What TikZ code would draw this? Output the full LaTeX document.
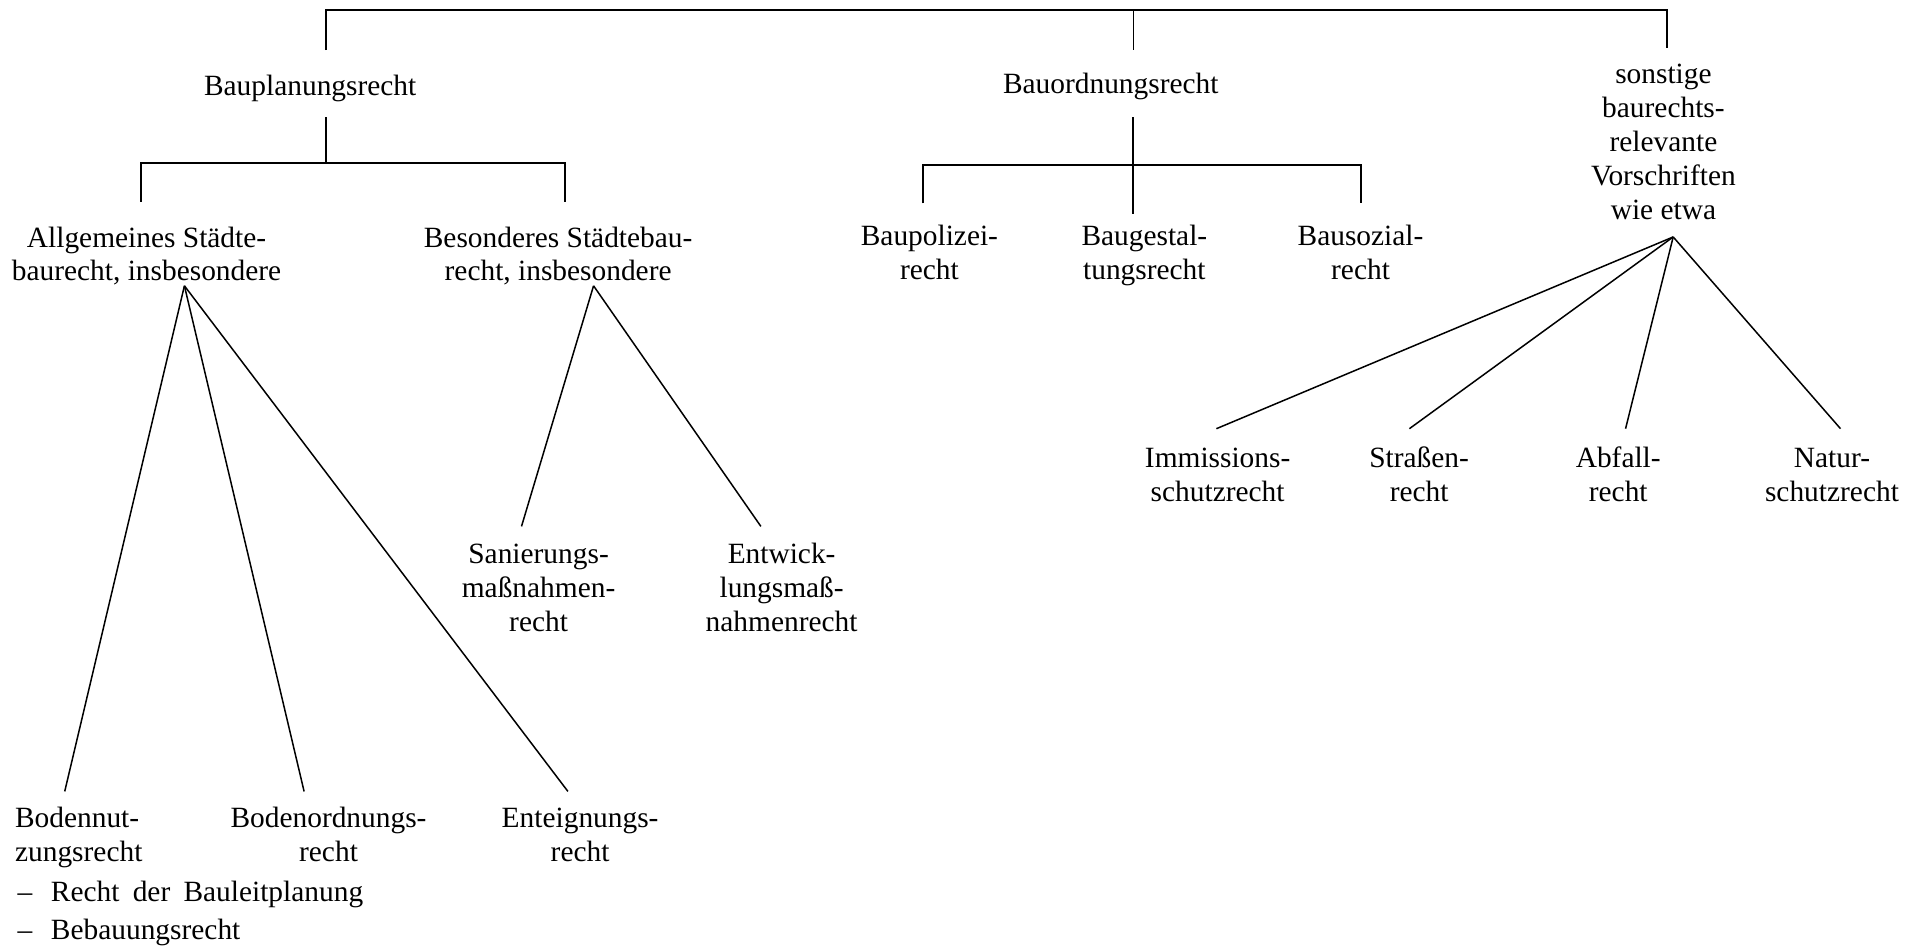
\documentclass[tikz,border=0pt]{standalone}
\usepackage{fontspec}
\setmainfont{Liberation Serif}
\begin{document}
\begin{tikzpicture}[x=0.02cm,y=-0.02cm,
  % nodes are placed by the baseline of their last line
  lbl/.style={align=center, anchor=base, inner sep=0pt,
    font=\fontsize{13.7}{15.8}\selectfont},
  lbll/.style={align=left, anchor=base west, inner sep=0pt,
    font=\fontsize{13.7}{15.8}\selectfont},
  conn/.style={line width=0.7pt},
  bar/.style={line width=0.8pt}]
\useasboundingbox (0,0) rectangle (1568,775);

% ---- level 1 ----
\node[lbl] (bpl) at (254,78.5) {Bauplanungsrecht};
\node[lbl] (bor) at (909.5,76.5) {Bauordnungsrecht};
\node[lbl] (son) at (1362,179.5) {sonstige\\baurechts-\\relevante\\Vorschriften\\wie etwa};

% ---- Bauplanungsrecht branch ----
\node[lbl] (allg) at (120,230) {Allgemeines Städte-\\baurecht, insbesondere};
\node[lbl] (bes) at (457,230) {Besonderes Städtebau-\\recht, insbesondere};
\node[lbll] (bnutz) at (12,705) {Bodennut-\\zungsrecht};
\node[lbl] (bord) at (269,705) {Bodenordnungs-\\recht};
\node[lbl] (ent) at (475,705) {Enteignungs-\\recht};
\node[lbll] (li1) at (14,738) {\makebox[15.6pt][l]{–}Recht\hspace{0.45em}der\hspace{0.45em}Bauleitplanung};
\node[lbll] (li2) at (14,769) {\makebox[15.6pt][l]{–}Bebauungsrecht};
\node[lbl] (san) at (441,517) {Sanierungs-\\maßnahmen-\\recht};
\node[lbl] (entw) at (640,517) {Entwick-\\lungsmaß-\\nahmenrecht};

% ---- Bauordnungsrecht branch ----
\node[lbl] (bpol) at (761,228.5) {Baupolizei-\\recht};
\node[lbl] (bgest) at (937,228.5) {Baugestal-\\tungsrecht};
\node[lbl] (bsoz) at (1114,228.5) {Bausozial-\\recht};

% ---- sonstige Vorschriften ----
\node[lbl] (imm) at (997,410.5) {Immissions-\\schutzrecht};
\node[lbl] (str) at (1162,410.5) {Straßen-\\recht};
\node[lbl] (abf) at (1325,410.5) {Abfall-\\recht};
\node[lbl] (nat) at (1500,410.5) {Natur-\\schutzrecht};

% ---- connector end points ----
\coordinate (barL) at (267,8);
\coordinate (barM) at (928,8);
\coordinate (barR) at (1365,8);
\coordinate (topL) at (267,41);
\coordinate (topM) at (928,41);
\coordinate (topR) at (1365,39);

\coordinate (bplD) at (267,96);
\coordinate (bplJ) at (267,133.5);
\coordinate (bplL) at (115.5,133.5);
\coordinate (bplR) at (462.5,133.5);
\coordinate (allgT) at (115.5,165);
\coordinate (besT) at (462.5,165);

\coordinate (borD) at (927.5,96);
\coordinate (bgestT) at (927.5,175);
\coordinate (borL) at (756,135);
\coordinate (borR) at (1114.5,135);
\coordinate (bpolT) at (756,166.5);
\coordinate (bsozT) at (1114.5,166.5);

\coordinate (allgA) at (151,234);
\coordinate (bnutzT) at (53,648);
\coordinate (bordT) at (249,648);
\coordinate (entT) at (465,648);

\coordinate (besA) at (486,234);
\coordinate (sanT) at (427,431);
\coordinate (entwT) at (623,431);

\coordinate (sonA) at (1370,194);
\coordinate (immT) at (996,351);
\coordinate (strT) at (1154,351);
\coordinate (abfT) at (1331,351);
\coordinate (natT) at (1507,351);

% ---- top bracket ----
\draw[bar] (topL) -- (barL) -- (barR) -- (topR);
\draw[conn] (barM) -- (topM);

% ---- Bauplanungsrecht bracket ----
\draw[conn] (bplD) -- (bplJ);
\draw[bar] (allgT) -- (bplL) -- (bplR) -- (besT);

% ---- Bauordnungsrecht bracket ----
\draw[conn] (borD) -- (bgestT);
\draw[bar] (bpolT) -- (borL) -- (borR) -- (bsozT);

% ---- fans ----
\foreach \t in {bnutzT,bordT,entT} \draw[conn] (allgA) -- (\t);
\foreach \t in {sanT,entwT} \draw[conn] (besA) -- (\t);
\foreach \t in {immT,strT,abfT,natT} \draw[conn] (sonA) -- (\t);
\end{tikzpicture}
\end{document}
